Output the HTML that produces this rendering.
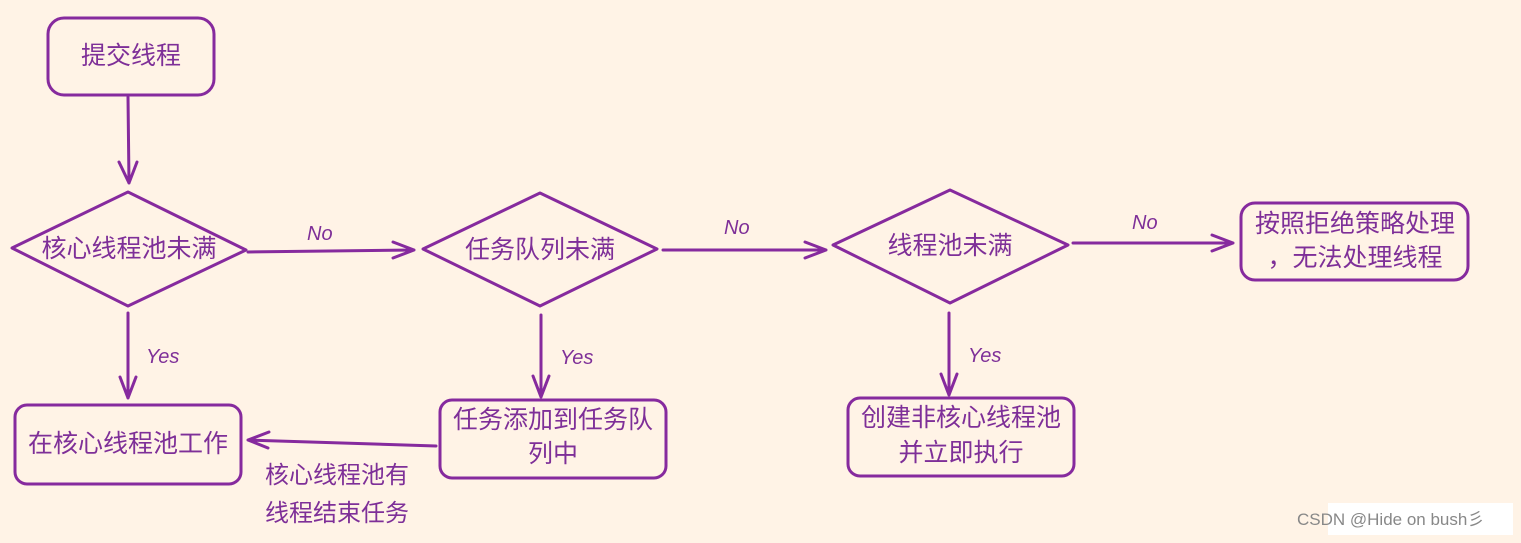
<!DOCTYPE html>
<html><head><meta charset="utf-8"><style>
html,body{margin:0;padding:0;background:#fff3e6;}
svg text{font-family:"Liberation Sans","Noto Sans CJK SC",sans-serif;fill:#7e2f98;}
.n{font-family:"Liberation Sans",sans-serif;font-style:italic;font-size:20px;}
</style></head><body>
<svg width="1521" height="538" viewBox="0 0 1521 538" xmlns="http://www.w3.org/2000/svg">
<rect width="1521" height="538" fill="#fff3e6"/>
<g fill="none" stroke="#862a9e" stroke-width="3" stroke-linecap="round" stroke-linejoin="round">
<rect x="48" y="18" width="166" height="77" rx="16"/>
<path d="M128 97 L129 183 M119 162 L129 183 L137 162"/>
<path d="M12 248 L128 192 L246 250 L128 306 Z"/>
<path d="M248 252 L414 250 M393 242 L414 250 L393 258"/>
<path d="M423 249 L540 193 L657 249 L540 306 Z"/>
<path d="M663 250 L826 250 M805 242 L826 250 L805 258"/>
<path d="M833 245 L950 190 L1068 245 L950 303 Z"/>
<path d="M1073 243 L1233 243 M1212 235 L1233 243 L1212 251"/>
<rect x="1241" y="203" width="227" height="77" rx="14"/>
<path d="M128 313 L128 398 M120 377 L128 398 L136 377"/>
<path d="M541 315 L541 397 M533 376 L541 397 L549 376"/>
<path d="M949 313 L949 395 M941 374 L949 395 L957 374"/>
<rect x="15" y="405" width="226" height="79" rx="12"/>
<rect x="440" y="400" width="226" height="78" rx="12"/>
<rect x="848" y="398" width="226" height="78" rx="12"/>
<path d="M436 446 L248 440 M269 432 L248 440 L268 448"/>
</g>
<g font-size="25" text-anchor="middle">
<text x="131" y="64">提交线程</text>
<text x="129" y="257">核心线程池未满</text>
<text x="540" y="258">任务队列未满</text>
<text x="950" y="254">线程池未满</text>
<text x="1355" y="232">按照拒绝策略处理</text>
<text x="1355" y="266">，无法处理线程</text>
<text x="128" y="452">在核心线程池工作</text>
<text x="553" y="428">任务添加到任务队</text>
<text x="553" y="462">列中</text>
<text x="961" y="426">创建非核心线程池</text>
<text x="961" y="461">并立即执行</text>
</g>
<g font-size="24">
<text x="265" y="483">核心线程池有</text>
<text x="265" y="521">线程结束任务</text>
</g>
<g class="n">
<text class="n" x="307" y="240">No</text>
<text class="n" x="724" y="234">No</text>
<text class="n" x="1132" y="229">No</text>
<text class="n" x="146" y="363">Yes</text>
<text class="n" x="560" y="364">Yes</text>
<text class="n" x="968" y="362">Yes</text>
</g>
<rect x="1328" y="503" width="185" height="32" fill="#ffffff"/>
<text x="1297" y="525" font-size="17" style="fill:#888">CSDN @Hide on bush彡</text>
</svg>
</body></html>
